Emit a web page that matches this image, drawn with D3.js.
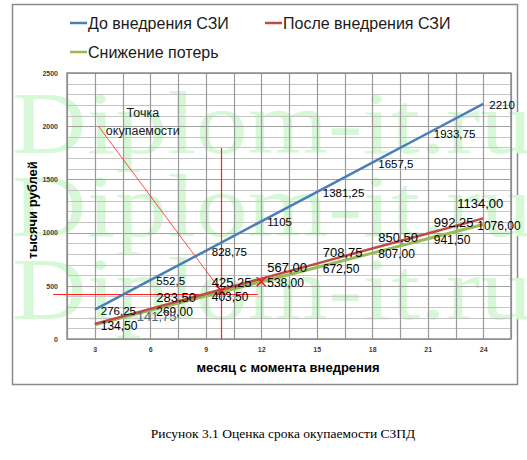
<!DOCTYPE html>
<html>
<head>
<meta charset="utf-8">
<script src="https://cdn.jsdelivr.net/npm/d3@7"></script>
<style>
  body { margin: 0; background: #fff; }
  svg { display: block; }
</style>
</head>
<body>
<script>
// payback chart, data

const months = [3, 6, 9, 12, 15, 18, 21, 24]
const before = [276.25, 552.5, 828.75, 1105, 1381.25, 1657.5, 1933.75, 2210]
const after = [141.75, 283.50, 425.25, 567.00, 708.75, 850.50, 992.25, 1134.00]
const savings = [134.50, 269.00, 403.50, 538.00, 672.50, 807.00, 941.50, 1076.00]
const seriesNames = ['До внедрения СЗИ', 'После внедрения СЗИ', 'Снижение потерь']
const yTicks = [0, 500, 1000, 1500, 2000, 2500]

// payback annotation
const paybackMonth = 9.85
const paybackLevel = 425
const paybackCross = 453
const secondCross = [12, 538]
const noteText = ['Точка', 'окупаемости']

var config = {
  width: 527,
  height: 460,
  plot: {left: 67, right: 511, top: 73, bottom: 339},
  colors: ['#4a7ebb', '#be4b48', '#98b954'],
  watermark: 'Diplom-it.ru',
}

var svg = d3.select('body').append('svg')
  .attr('width', config.width)
  .attr('height', config.height)

var x = d3.scaleLinear().domain([1.5, 25.5]).range([config.plot.left, config.plot.right])
var y = d3.scaleLinear().domain([0, 2500]).range([config.plot.bottom, config.plot.top])

// outer chart frame
svg.append('rect')
  .attr('x', 12.5).attr('y', 4.5)
  .attr('width', 505).attr('height', 380)
  .attr('fill', '#fff')
  .attr('stroke', '#8a8a8a')
  .attr('stroke-width', 1.5)

// watermark behind everything
var wm = svg.append('g')
;[153, 236, 319].forEach(b => {
  wm.append('text')
    .attr('x', 12).attr('y', b)
    .attr('textLength', 520)
    .attr('lengthAdjust', 'spacingAndGlyphs')
    .style('font-family', '"Liberation Serif", serif')
    .style('font-size', '88px')
    .style('fill', '#d6f8d6')
    .text(config.watermark)
})

// grid
var grid = svg.append('g')
d3.range(0, 2501, 100).forEach(v => {
  grid.append('line')
    .attr('x1', config.plot.left).attr('x2', config.plot.right)
    .attr('y1', Math.round(y(v)) + 0.5).attr('y2', Math.round(y(v)) + 0.5)
    .attr('stroke', v % 500 === 0 ? '#a0a0a0' : '#c4c4c4')
    .attr('stroke-width', 1.2)
})
d3.range(1.5, 25.6, 1.5).forEach(m => {
  grid.append('line')
    .attr('x1', Math.round(x(m)) + 0.5).attr('x2', Math.round(x(m)) + 0.5)
    .attr('y1', config.plot.top).attr('y2', config.plot.bottom)
    .attr('stroke', '#9a9a9a')
    .attr('stroke-width', 1.2)
})
grid.append('rect')
  .attr('x', config.plot.left).attr('y', config.plot.top)
  .attr('width', config.plot.right - config.plot.left)
  .attr('height', config.plot.bottom - config.plot.top)
  .attr('fill', 'none')
  .attr('stroke', '#8c8c8c')
  .attr('stroke-width', 1.5)

// axes (labels only)
var yAxis = svg.append('g')
  .attr('transform', 'translate(' + config.plot.left + ',0)')
  .call(d3.axisLeft(y).tickValues(yTicks).tickSize(0).tickPadding(9).tickFormat(d3.format('d')))
var xAxis = svg.append('g')
  .attr('transform', 'translate(0,' + config.plot.bottom + ')')
  .call(d3.axisBottom(x).tickValues(months).tickSize(0).tickPadding(8))
;[yAxis, xAxis].forEach(a => {
  a.select('.domain').remove()
  a.selectAll('text')
    .style('font-family', '"Liberation Sans", Arial, sans-serif')
    .style('font-size', '7px')
    .style('font-weight', 'bold')
    .style('fill', '#404040')
})

// axis titles
svg.append('text')
  .attr('x', 288).attr('y', 372)
  .attr('text-anchor', 'middle')
  .style('font-family', '"Liberation Sans", Arial, sans-serif')
  .style('font-size', '13px')
  .style('font-weight', 'bold')
  .text('месяц с момента внедрения')
svg.append('text')
  .attr('transform', 'translate(37,210) rotate(-90)')
  .attr('text-anchor', 'middle')
  .style('font-family', '"Liberation Sans", Arial, sans-serif')
  .style('font-size', '13px')
  .style('font-weight', 'bold')
  .text('тысячи рублей')

// payback guides
var red = '#ff1f1f'
var px = Math.round(x(paybackMonth)) + 0.5
svg.append('line')
  .attr('x1', px).attr('x2', px)
  .attr('y1', y(1795)).attr('y2', y(0))
  .attr('stroke', red).attr('stroke-width', 1.2)
svg.append('line')
  .attr('x1', x(0.75)).attr('x2', x(11.8))
  .attr('y1', Math.round(y(paybackLevel)) + 0.5).attr('y2', Math.round(y(paybackLevel)) + 0.5)
  .attr('stroke', red).attr('stroke-width', 1.2)

svg.append('defs').append('marker')
  .attr('id', 'arr')
  .attr('viewBox', '0 0 10 10')
  .attr('refX', 9).attr('refY', 5)
  .attr('markerWidth', 6).attr('markerHeight', 6)
  .attr('orient', 'auto')
  .append('path').attr('d', 'M0,1L10,5L0,9Z').attr('fill', red)

svg.append('line')
  .attr('x1', x(3.2)).attr('y1', y(2000))
  .attr('x2', x(paybackMonth) - 2).attr('y2', y(paybackCross) - 2)
  .attr('stroke', red).attr('stroke-width', 0.8)
  .attr('marker-end', 'url(#arr)')

noteText.forEach((t, i) => {
  svg.append('text')
    .attr('x', x(5.6)).attr('y', y(2125) + i * 18 + 4)
    .attr('text-anchor', 'middle')
    .style('font-family', '"Liberation Sans", Arial, sans-serif')
    .style('font-size', '12.5px')
    .style('fill', '#1a1a1a')
    .text(t)
})

// series lines
var series = [before, after, savings]
var line = d3.line().x((d, i) => x(months[i])).y(d => y(d))
var drawOrder = [0, 2, 1]
drawOrder.forEach(k => {
  svg.append('path')
    .datum(series[k])
    .attr('d', line)
    .attr('fill', 'none')
    .attr('stroke', config.colors[k])
    .attr('stroke-width', k === 2 ? 3 : 2.5)
})

// cross markers
;[[paybackMonth, paybackCross], secondCross].forEach(p => {
  var cx = x(p[0]), cy = y(p[1]), s = 4.5
  svg.append('path')
    .attr('d', 'M' + (cx - s) + ',' + (cy - s) + 'L' + (cx + s) + ',' + (cy + s) +
               'M' + (cx - s) + ',' + (cy + s) + 'L' + (cx + s) + ',' + (cy - s))
    .attr('stroke', '#e02020').attr('stroke-width', 1.6)
})

// data labels
var general = d => String(d).replace('.', ',')
var fixed2 = d => d.toFixed(2).replace('.', ',')
var redLabelNudge = {0: [36, 4], 7: [-32, -4]}

var labels = svg.append('g')
  .style('font-family', '"Liberation Sans", Arial, sans-serif')

before.forEach((v, i) => {
  labels.append('text')
    .attr('x', x(months[i]) + 6).attr('y', y(v) + 1)
    .attr('dy', '0.35em')
    .style('font-size', '11.5px')
    .text(general(v))
})
savings.forEach((v, i) => {
  labels.append('text')
    .attr('x', x(months[i]) + (i === 7 ? -6 : 6)).attr('y', y(v) + 1)
    .attr('dy', '0.35em')
    .style('font-size', '12px')
    .text(fixed2(v))
})
after.forEach((v, i) => {
  var n = redLabelNudge[i] || [0, 0]
  labels.append('text')
    .attr('x', x(months[i]) + 6 + n[0]).attr('y', y(v) - 11 + n[1])
    .attr('dy', '0.35em')
    .style('font-size', '13px')
    .style('fill', i === 0 ? '#4d6b75' : '#000')
    .text(fixed2(v))
})

// legend
var legendItems = [
  {x: 70, y: 23},
  {x: 265, y: 23},
  {x: 70, y: 52},
]
legendItems.forEach((p, k) => {
  svg.append('line')
    .attr('x1', p.x).attr('x2', p.x + 17)
    .attr('y1', p.y).attr('y2', p.y)
    .attr('stroke', config.colors[k]).attr('stroke-width', 2.5)
  svg.append('text')
    .attr('x', p.x + 18).attr('y', p.y)
    .attr('dy', '0.35em')
    .style('font-family', '"Liberation Sans", Arial, sans-serif')
    .style('font-size', '16px')
    .style('fill', '#1a1a1a')
    .text(seriesNames[k])
})

// caption
svg.append('text')
  .attr('x', 283).attr('y', 438)
  .attr('text-anchor', 'middle')
  .style('font-family', '"Liberation Serif", "Times New Roman", serif')
  .style('font-size', '13.5px')
  .text('Рисунок 3.1 Оценка срока окупаемости СЗПД')
</script>
</body>
</html>
